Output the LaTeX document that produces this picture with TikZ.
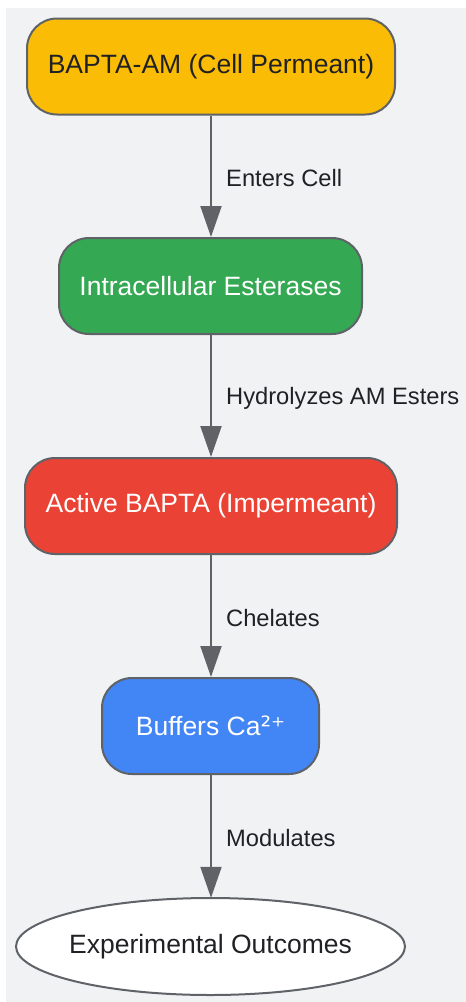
\documentclass[tikz,border=0pt]{standalone}
\usepackage{fontspec}
\setmainfont{Liberation Sans}
\newfontfamily\supfont{DejaVu Sans}
\usetikzlibrary{arrows.meta,shapes.geometric}
\definecolor{bgc}{HTML}{F1F2F4}
\definecolor{edgec}{HTML}{5F6368}
\definecolor{txtc}{HTML}{202124}
\definecolor{cyellow}{HTML}{FBBC05}
\definecolor{cgreen}{HTML}{34A853}
\definecolor{cred}{HTML}{EA4335}
\definecolor{cblue}{HTML}{4285F4}
\tikzset{
  box/.style={draw=edgec, line width=2pt, rounded corners=30pt, inner sep=0pt,
    minimum height=96pt, font=\fontsize{26.5}{30}\selectfont, text=white},
  conn/.style={draw=edgec, line width=2pt, -{Triangle[length=31pt,width=21pt]}},
  lbl/.style={anchor=west, text=txtc, font=\fontsize{23.7}{27}\selectfont, inner sep=0pt},
}
\begin{document}
\begin{tikzpicture}[x=1pt,y=-1pt]
\useasboundingbox (0,0) rectangle (466,1002);
\fill[bgc] (6,8) rectangle (466,1002);
\node[box, fill=cyellow, text=txtc, minimum width=368pt] (a) at (211,66.5) {BAPTA-AM (Cell Permeant)};
\node[box, fill=cgreen, minimum width=303pt] (b) at (210.5,286) {Intracellular Esterases};
\node[box, fill=cred, minimum width=372pt] (c) at (211,506) {Active BAPTA (Impermeant)};
\node[box, fill=cblue, minimum width=217pt] (d) at (210.5,726) {Buffers Ca{\supfont ²⁺}};
\draw[draw=edgec, line width=2pt, fill=white] (210.5,946.5) ellipse [x radius=194.5pt, y radius=48.5pt];
\node[inner sep=0pt, text=txtc, minimum width=389pt, minimum height=97pt,
  font=\fontsize{26.5}{30}\selectfont] (e) at (210.5,946.5) {Experimental Outcomes};
\draw[conn] (a.south -| 211,0) -- (b.north -| 211,0);
\draw[conn] (b.south -| 211,0) -- (c.north -| 211,0);
\draw[conn] (c.south -| 211,0) -- (d.north -| 211,0);
\draw[conn] (d.south -| 211,0) -- (e.north -| 211,0);
\node[lbl] (l1) at (226,178) {Enters Cell};
\node[lbl] (l2) at (226,398) {Hydrolyzes AM Esters};
\node[lbl] (l3) at (226,618) {Chelates};
\node[lbl] (l4) at (226,838) {Modulates};
\end{tikzpicture}
\end{document}
